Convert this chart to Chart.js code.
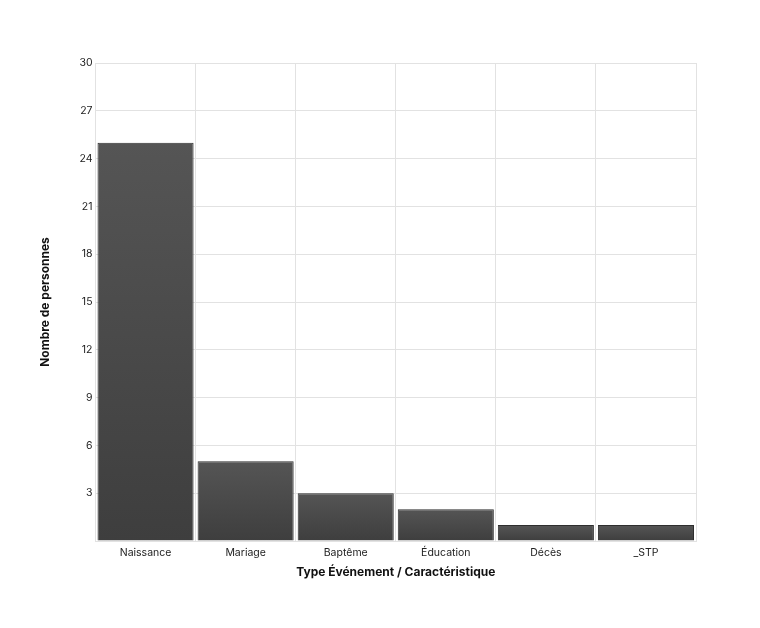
<!DOCTYPE html>
<html>
<head>
<meta charset="utf-8">
<script src="https://cdn.jsdelivr.net/npm/chart.js@4"></script>
<style>
  html, body { margin: 0; padding: 0; background: #fff; }
  #wrap { width: 760px; height: 628px; }
</style>
</head>
<body>
<div id="wrap"><canvas id="myChart"></canvas></div>
<script>
// Chart data
var categories = ['Naissance', 'Mariage', 'Baptême', 'Éducation', 'Décès', '_STP'];
var counts = [25, 5, 3, 2, 1, 1];
var yMax = 30;
var yStep = 3;

// Gradient for each bar, lighter at the top
function barFill(context) {
    var chart = context.chart;
    var yScale = chart.scales.y;
    if (!yScale || context.raw === undefined) return '#4a4a4a';
    var top = yScale.getPixelForValue(context.raw);
    var bottom = yScale.getPixelForValue(0);
    if (!isFinite(top) || !isFinite(bottom) || top === bottom) return '#4a4a4a';
    var g = chart.ctx.createLinearGradient(0, top, 0, bottom);
    g.addColorStop(0, '#555555');
    g.addColorStop(1, '#3e3e3e');
    return g;
}

var ctx = document.getElementById('myChart').getContext('2d');
var myChart = new Chart(ctx, {
    type: 'bar',
    data: {
        labels: categories,
        datasets: [{
            label: 'Nombre de personnes',
            data: counts,
            backgroundColor: barFill,
            borderColor: '#2e2e2e',
            borderWidth: 1,
            barPercentage: 1,
            categoryPercentage: 0.96
        }]
    },
    options: {
        responsive: true,
        maintainAspectRatio: false,
        animation: false,
        layout: { padding: { left: 34, right: 64, top: 63, bottom: 45 } },
        plugins: {
            legend: { display: false },
            tooltip: { enabled: false }
        },
        scales: {
            x: {
                grid: { color: '#e2e2e2', drawTicks: false, offset: true },
                border: { color: '#e2e2e2' },
                ticks: { color: '#222', padding: 6, font: { family: 'Inter', size: 10.5 } },
                title: {
                    display: true,
                    text: 'Type Événement / Caractéristique',
                    color: '#111',
                    padding: { top: 0, bottom: 3 },
                    font: { family: 'Inter', size: 12, weight: 'bold' }
                }
            },
            y: {
                min: 0,
                max: yMax,
                grid: { color: '#e2e2e2', drawTicks: false },
                border: { color: '#e2e2e2' },
                ticks: {
                    stepSize: yStep,
                    color: '#222',
                    padding: 3,
                    font: { family: 'Inter', size: 10.5 },
                    callback: function (v) { return v === 0 ? '' : v; }
                },
                title: {
                    display: true,
                    text: 'Nombre de personnes',
                    color: '#111',
                    padding: { bottom: 24 },
                    font: { family: 'Inter', size: 12, weight: 'bold' }
                }
            }
        }
    }
});
</script>
</body>
</html>
